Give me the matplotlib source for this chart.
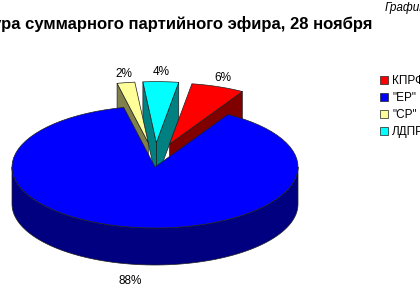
import numpy as np
import matplotlib
matplotlib.use("Agg")
import matplotlib.pyplot as plt
from matplotlib.patches import Polygon, Patch

# data (series order as in the legend)
parties = ['КПРФ', '"ЕР"', '"СР"', 'ЛДПР']
shares = [6, 88, 2, 4]
pct_labels = ['6%', '88%', '2%', '4%']
top_colors = ['#FF0000', '#0000FF', '#FFFF99', '#00FFFF']
side_colors = ['#800000', '#000080', '#80804C', '#008080']
explode = [0.4, 0.0, 0.4, 0.4]

title = 'Структура суммарного партийного эфира, 28 ноября'
corner = 'График'

# geometry of the fake 3d pie (pixel units, y pointing down)
cx, cy = 155, 167
rx, ry = 143, 61
depth = 37
start = 81.0   # slices go clockwise from here, as excel does
persp = 0.75   # explode looks narrower sideways (perspective)

plt.rcParams['font.family'] = ['Liberation Sans', 'DejaVu Sans']
fig = plt.figure(figsize=(4.2, 3.0), dpi=100)
ax = fig.add_axes([0, 0, 1, 1])
ax.set_xlim(0, 420)
ax.set_ylim(300, 0)
ax.axis('off')


def pt(theta, r, ox, oy, dz=0.0):
    t = np.radians(theta)
    return cx + ox + r * rx * np.cos(t), cy + oy - r * ry * np.sin(t) + dz


def arc(a, b, ox, oy, dz=0.0, n=80):
    th = np.linspace(a, b, n)
    x, y = pt(th, 1.0, ox, oy, dz)
    return list(zip(x, y))


# slice angles, clockwise from start
total = float(sum(shares))
slices = []
hi = start
for i, v in enumerate(shares):
    lo = hi - v / total * 360.0
    slices.append((i, lo, hi))
    hi = lo

# back to front
slices.sort(key=lambda s: -np.sin(np.radians((s[1] + s[2]) / 2)))

ec = dict(edgecolor='#202020', linewidth=0.5, joinstyle='round')
for i, a, b in slices:
    m = np.radians((a + b) / 2)
    ox = explode[i] * persp * rx * np.cos(m)
    oy = -explode[i] * ry * np.sin(m)
    tip = (cx + ox, cy + oy)
    tipb = (cx + ox, cy + oy + depth)
    # radial walls
    if np.cos(np.radians(a)) > 0 and b - a < 180:
        p = pt(a, 1, ox, oy)
        ax.add_patch(Polygon([tip, p, (p[0], p[1] + depth), tipb],
                             facecolor=side_colors[i], **ec))
    if np.cos(np.radians(b)) < 0 and b - a < 180:
        p = pt(b, 1, ox, oy)
        ax.add_patch(Polygon([tip, p, (p[0], p[1] + depth), tipb],
                             facecolor=side_colors[i], **ec))
    # outer wall, front half only
    for k in (-360, 0, 360):
        lo, hi = max(a, 180 + k), min(b, 360 + k)
        if hi > lo:
            wall = arc(lo, hi, ox, oy) + arc(hi, lo, ox, oy, depth)
            ax.add_patch(Polygon(wall, facecolor=side_colors[i], **ec))
    # top face
    ax.add_patch(Polygon([tip] + arc(a, b, ox, oy),
                         facecolor=top_colors[i], **ec))
    # percent label
    lx = cx + ox + 1.1 * rx * np.cos(m)
    ly = cy + oy - 1.15 * ry * np.sin(m)
    if np.sin(m) < 0:
        ly += depth * 1.2
    ax.text(lx, ly, pct_labels[i], ha='center', va='center', fontsize=8.5)

fig.text(372 / 420, 1 - 29 / 300, title, ha='right', va='baseline',
         fontsize=12, fontweight='bold')
fig.text(385 / 420, 1 - 11 / 300, corner, ha='left', va='baseline',
         fontsize=8.5, style='italic')

handles = [Patch(facecolor=c, edgecolor='#202020', linewidth=0.5)
           for c in top_colors]
fig.legend(handles, parties, loc='upper left',
           bbox_to_anchor=(374 / 420, 1 - 69 / 300), frameon=False,
           fontsize=8.5, handlelength=0.65, handleheight=0.65,
           handletextpad=0.4, labelspacing=0.42, borderpad=0)

fig.savefig('out.png', dpi=100)
